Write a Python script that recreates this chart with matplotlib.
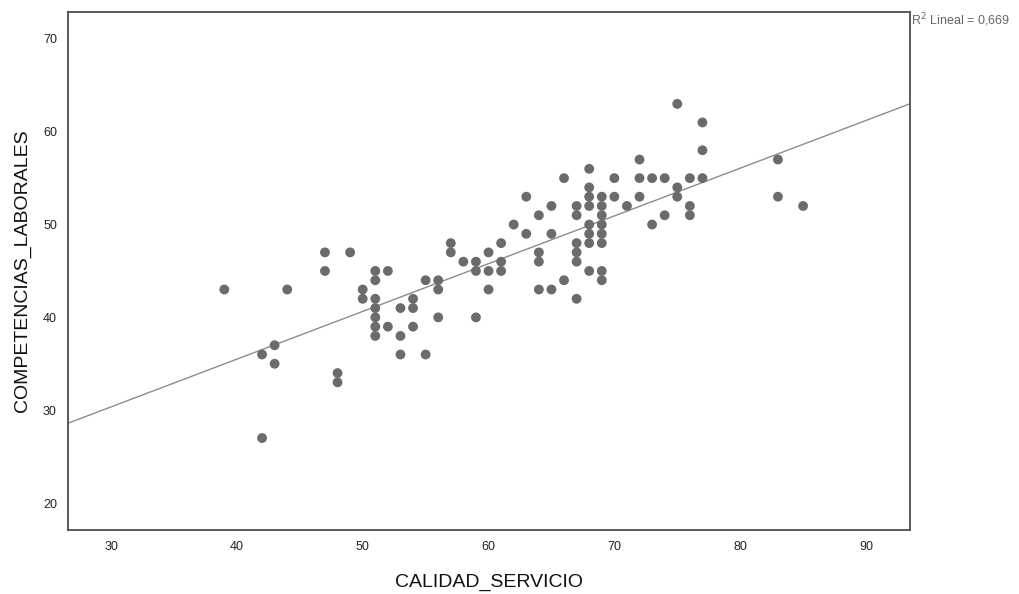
import numpy as np
import matplotlib.pyplot as plt

plt.rcParams['font.family'] = ['Liberation Sans', 'DejaVu Sans']

# CALIDAD_SERVICIO (x) and COMPETENCIAS_LABORALES (y), one pair per case
calidad = [39, 42, 42, 43, 43, 44, 47, 47, 48, 48, 49, 50, 50,
           51, 51, 51, 51, 51, 51, 51, 52, 52, 53, 53, 53, 54, 54, 54,
           55, 55, 56, 56, 56, 57, 57, 58, 59, 59, 59, 60, 60, 60,
           61, 61, 61, 62, 63, 63, 64, 64, 64, 64, 65, 65, 65, 66, 66,
           67, 67, 67, 67, 67, 67,
           68, 68, 68, 68, 68, 68, 68, 68,
           69, 69, 69, 69, 69, 69, 69, 69,
           70, 70, 71, 72, 72, 72, 73, 73, 74, 74, 75, 75, 75,
           76, 76, 76, 77, 77, 77, 83, 83, 85]
competencias = [43, 36, 27, 37, 35, 43, 47, 45, 34, 33, 47, 43, 42,
                45, 44, 42, 41, 40, 39, 38, 45, 39, 41, 38, 36, 42, 41, 39,
                44, 36, 44, 43, 40, 48, 47, 46, 46, 45, 40, 47, 45, 43,
                48, 46, 45, 50, 53, 49, 51, 47, 46, 43, 52, 49, 43, 55, 44,
                52, 51, 48, 47, 46, 42,
                56, 54, 53, 52, 50, 49, 48, 45,
                53, 52, 51, 50, 49, 48, 45, 44,
                55, 53, 52, 57, 55, 53, 55, 50, 55, 51, 63, 54, 53,
                55, 52, 51, 61, 58, 55, 57, 53, 52]

x = np.array(calidad, dtype=float)
y = np.array(competencias, dtype=float)
# linear fit, drawn over the whole x range like SPSS does
slope, intercept = np.polyfit(x, y, 1)

fig = plt.figure(figsize=(10.2, 5.94), dpi=100)
ax = fig.add_axes([0.0667, 0.1077, 0.8255, 0.8723])

xlim = (26.58, 93.5)
ylim = (17.09, 72.91)
ax.set_xlim(*xlim)
ax.set_ylim(*ylim)

xs = np.array(xlim)
ax.plot(xs, intercept + slope * xs, color='#8c8c8c', linewidth=1.0, zorder=2)
ax.scatter(x, y, s=50, color='#6b6b6b', edgecolors='none', zorder=3)

ax.set_xticks([30, 40, 50, 60, 70, 80, 90])
ax.set_yticks([20, 30, 40, 50, 60, 70])
ax.tick_params(length=0, labelsize=9, colors='#222222', pad=8)
for s in ax.spines.values():
    s.set_color('#4d4d4d')
    s.set_linewidth(1.3)

ax.set_xlabel('CALIDAD_SERVICIO', fontsize=14, color='#111111')
ax.set_ylabel('COMPETENCIAS_LABORALES', fontsize=14, color='#111111')
ax.xaxis.set_label_coords(0.5, -0.084)
ax.yaxis.set_label_coords(-0.044, 0.5)

fig.text(0.893, 0.966, 'R$^2$ Lineal = 0,669', fontsize=9, color='#666666',
         ha='left', va='center')

fig.savefig('out.png', dpi=100)
